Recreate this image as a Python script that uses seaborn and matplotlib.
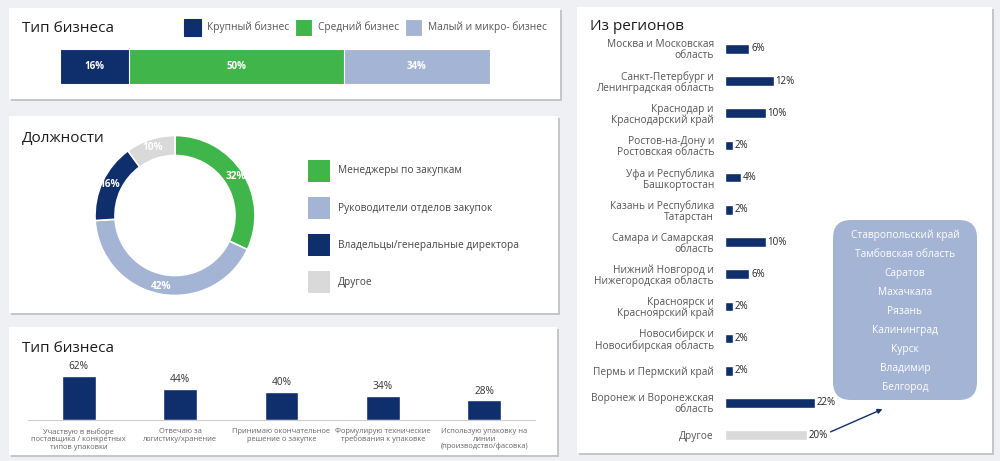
import numpy as np
import pandas as pd
import seaborn as sns
import matplotlib.pyplot as plt
from matplotlib.patches import Rectangle, FancyBboxPatch

sns.set_style('white')
plt.rcParams['font.family'] = ['Open Sans', 'DejaVu Sans']

# colours
NAVY = '#0e2e6c'
GREEN = '#3fb54a'
LIGHT = '#a4b4d4'
GREY = '#d9d9d9'

# --- data ---
biz_labels = ['Крупный бизнес', 'Средний бизнес', 'Малый и микро- бизнес']
biz_values = [16, 50, 34]

role_labels = ['Менеджеры по закупкам', 'Руководители отделов закупок',
               'Владельцы/генеральные директора', 'Другое']
role_values = [32, 42, 16, 10]

duty_labels = ['Участвую в выборе\nпоставщика / конкретных\nтипов упаковки',
               'Отвечаю за\nлогистику/хранение',
               'Принимаю окончательное\nрешение о закупке',
               'Формулирую технические\nтребования к упаковке',
               'Использую упаковку на\nлинии\n(производство/фасовка)']
duty_values = [62, 44, 40, 34, 28]

region_labels = ['Москва и Московская\nобласть',
                 'Санкт-Петербург и\nЛенинградская область',
                 'Краснодар и\nКраснодарский край',
                 'Ростов-на-Дону и\nРостовская область',
                 'Уфа и Республика\nБашкортостан',
                 'Казань и Республика\nТатарстан',
                 'Самара и Самарская\nобласть',
                 'Нижний Новгород и\nНижегородская область',
                 'Красноярск и\nКрасноярский край',
                 'Новосибирск и\nНовосибирская область',
                 'Пермь и Пермский край',
                 'Воронеж и Воронежская\nобласть',
                 'Другое']
region_values = [6, 12, 10, 2, 4, 2, 10, 6, 2, 2, 2, 22, 20]

other_regions = ['Ставропольский край', 'Тамбовская область', 'Саратов',
                 'Махачкала', 'Рязань', 'Калининград', 'Курск', 'Владимир',
                 'Белгород']

W, H = 1000, 461
fig = plt.figure(figsize=(10, 4.61), dpi=100)
fig.patch.set_facecolor('#eef0f3')


def px_axes(x0, y0, x1, y1):
    ax = fig.add_axes([x0 / W, 1 - y1 / H, (x1 - x0) / W, (y1 - y0) / H])
    ax.patch.set_alpha(0)
    ax.set_zorder(1)
    return ax


# background layer with panels
bg = fig.add_axes([0, 0, 1, 1])
bg.set_xlim(0, W)
bg.set_ylim(H, 0)
bg.axis('off')
bg.set_zorder(0)

panels = [(9, 8, 560, 99), (9, 116, 558, 313), (9, 327, 557, 455), (577, 7, 992, 453)]
for x0, y0, x1, y1 in panels:
    bg.add_patch(Rectangle((x0 + 1.5, y0 + 2), x1 - x0, y1 - y0, color='#c4c6ca', lw=0))
    bg.add_patch(Rectangle((x0, y0), x1 - x0, y1 - y0, color='white', lw=0))

title_kw = dict(fontsize=11, color='#1c1c1c', va='center', ha='left')
bg.text(22, 28, 'Тип бизнеса', **title_kw)
bg.text(22, 138, 'Должности', **title_kw)
bg.text(22, 348, 'Тип бизнеса', **title_kw)
bg.text(590, 26, 'Из регионов', **title_kw)

# --- panel 1: stacked business type bar ---
biz_colors = [NAVY, GREEN, LIGHT]
legend_x = [184, 295, 405]
for lx, lab, c in zip(legend_x, biz_labels, biz_colors):
    bg.add_patch(Rectangle((lx, 19), 17, 17, facecolor=c, edgecolor=NAVY if c == NAVY else 'white', lw=0.8))
    bg.text(lx + 23, 27.5, lab, fontsize=7.3, color='#555555', va='center')

ax1 = px_axes(60, 49, 490, 84)
cum = np.cumsum(biz_values)
for i in reversed(range(len(biz_values))):
    sns.barplot(x=[cum[i]], y=['biz'], color=biz_colors[i], width=1,
                edgecolor='white', linewidth=0.8, saturation=1, ax=ax1)
for i, v in enumerate(biz_values):
    ax1.text(cum[i] - v / 2, 0, f'{v}%', color='white', fontsize=7,
             fontweight='bold', ha='center', va='center')
ax1.set_xlim(0, 100)
ax1.set_ylim(0.5, -0.5)
ax1.axis('off')

# --- panel 2: roles donut ---
role_colors = [GREEN, LIGHT, NAVY, GREY]
ax2 = px_axes(85, 125.5, 265, 305.5)
ax2.pie(role_values, colors=role_colors, startangle=90, counterclock=False,
        radius=80 / 90, wedgeprops=dict(width=20 / 90, edgecolor='white', linewidth=1.2),
        autopct=lambda p: f'{p:.0f}%', pctdistance=0.9,
        textprops=dict(color='white', fontsize=7.3, fontweight='bold'))
ax2.set_xlim(-1, 1)
ax2.set_ylim(-1, 1)
ax2.set_aspect('equal')

leg_y = [170.5, 208, 245, 282]
for ly, lab, c in zip(leg_y, role_labels, role_colors):
    bg.add_patch(Rectangle((308, ly - 11), 22, 22, color=c, lw=0))
    bg.text(338, ly, lab, fontsize=7.3, color='#444444', va='center')

# --- panel 3: duties bar chart ---
ax3 = px_axes(28, 360, 535, 420)
duty_df = pd.DataFrame({'duty': duty_labels, 'share': duty_values})
sns.barplot(data=duty_df, x='duty', y='share', color=NAVY, saturation=1,
            width=0.335, ax=ax3)
for i, v in enumerate(duty_values):
    ax3.text(i, v + 5, f'{v}%', ha='center', va='bottom', fontsize=7.3, color='#333333')
ax3.set_xlim(-0.5, 4.5)
ax3.set_ylim(0, 84.5)
ax3.set_xlabel('')
ax3.set_ylabel('')
ax3.set_yticks([])
for s in ['top', 'right', 'left']:
    ax3.spines[s].set_visible(False)
ax3.spines['bottom'].set_color('#cfcfcf')
ax3.spines['bottom'].set_linewidth(0.8)
ax3.set_xticks(np.arange(-0.5, 5, 1), minor=True)
ax3.tick_params(axis='x', which='minor', length=4, color='#cfcfcf', width=0.8, direction='out')
ax3.tick_params(axis='x', which='major', length=0, pad=6)
for lbl in ax3.get_xticklabels():
    lbl.set_fontsize(5.4)
    lbl.set_color('#666666')
    lbl.set_linespacing(1.05)

# --- panel 4: regions horizontal bars ---
ax4 = px_axes(725, 32.9, 990, 451.1)
reg_df = pd.DataFrame({'region': region_labels, 'share': region_values})
reg_palette = {r: (GREY if r == 'Другое' else NAVY) for r in region_labels}
sns.barplot(data=reg_df, y='region', x='share', hue='region', palette=reg_palette,
            legend=False, saturation=1, width=0.3, orient='h', ax=ax4)
for i, v in enumerate(region_values):
    ax4.text(v + 0.4, i, f'{v}%', va='center', ha='left', fontsize=7, color='#222222')
ax4.set_xlim(0, 65)
ax4.set_ylim(12.5, -0.5)
ax4.set_xlabel('')
ax4.set_ylabel('')
ax4.set_xticks([])
sns.despine(ax=ax4, left=True, bottom=True)
ax4.tick_params(axis='y', length=0, pad=8)
for lbl in ax4.get_yticklabels():
    lbl.set_fontsize(7.3)
    lbl.set_color('#555555')
    lbl.set_linespacing(1.0)

# rounded box with other regions and arrow
r = 18
bg.add_patch(FancyBboxPatch((833 + r, 220 + r), 144 - 2 * r, 180 - 2 * r,
                            boxstyle=f'round,pad={r}', facecolor=LIGHT, lw=0))
for k, name in enumerate(other_regions):
    bg.text(905, 235 + k * 19.1, name, ha='center', va='center', fontsize=7.3, color='white')
bg.annotate('', xy=(885, 408), xytext=(828, 433),
            arrowprops=dict(arrowstyle='-|>', color=NAVY, lw=1, mutation_scale=7))

plt.savefig('out.png', dpi=100)
